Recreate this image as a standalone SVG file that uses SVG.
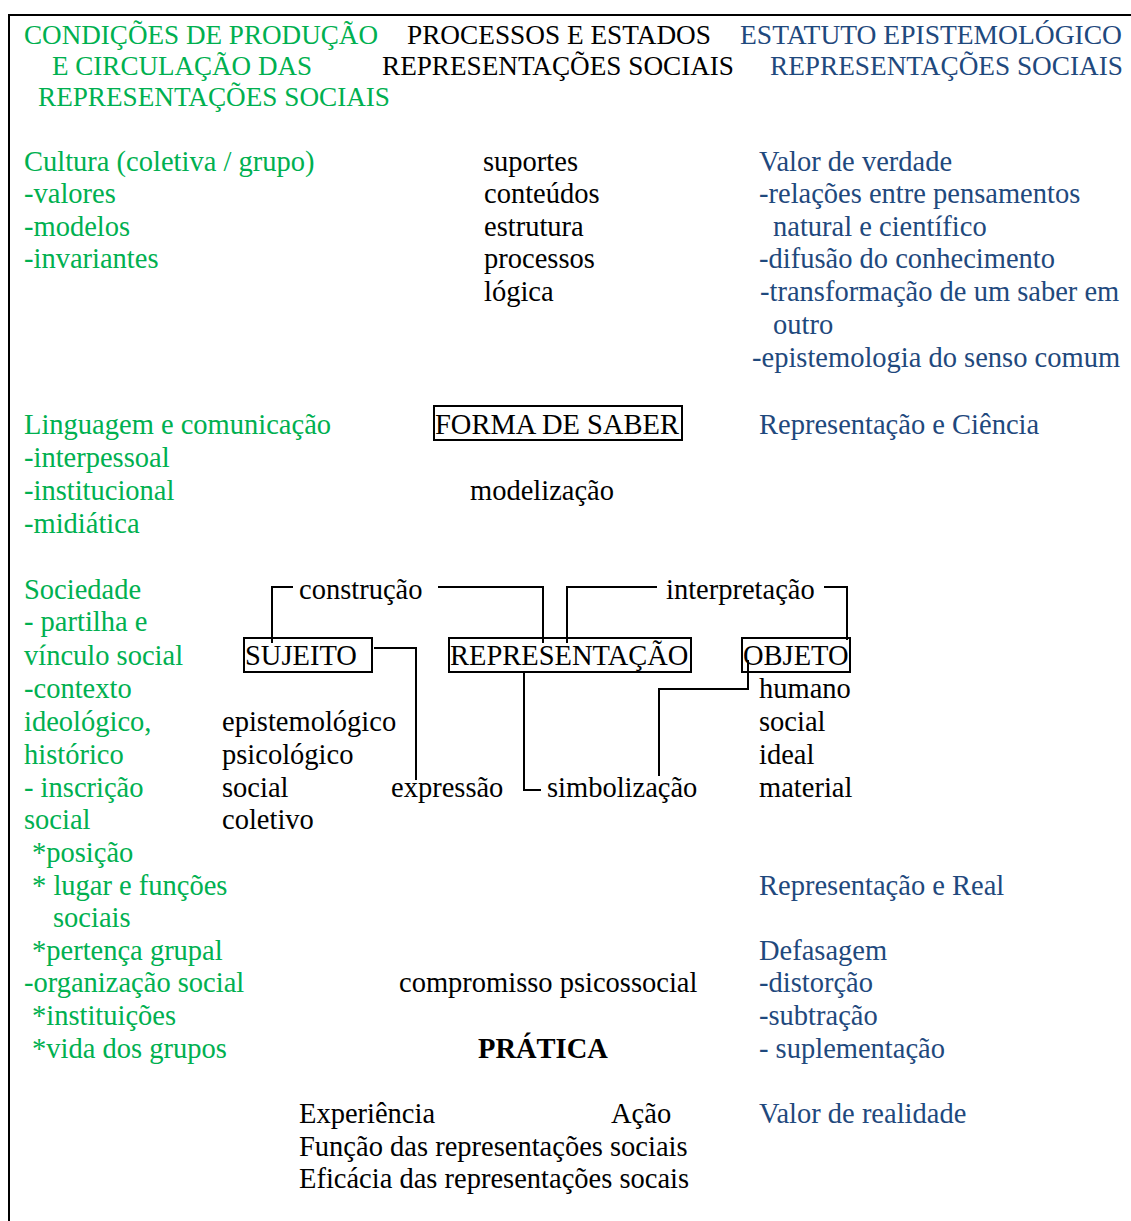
<svg xmlns="http://www.w3.org/2000/svg" width="1131" height="1221" viewBox="0 0 1131 1221">
<style>
text{font-family:"Liberation Serif","Times New Roman",serif;font-size:28.5px;fill:#000}
.h{font-size:27.3px}
.g{fill:#00B050}
.b{fill:#1F497D}
.bold{font-weight:bold}
.box{fill:none;stroke:#000;stroke-width:2}
.ln{fill:none;stroke:#000;stroke-width:2}
</style>
<rect width="1131" height="1221" fill="#fff"/>
<g id="frame"><path class="ln" d="M9 1221V15H1131"/></g>
<g id="headers">
<text class="h g" x="24" y="44" textLength="354" lengthAdjust="spacingAndGlyphs">CONDIÇÕES DE PRODUÇÃO</text>
<text class="h g" x="52" y="75" textLength="260" lengthAdjust="spacingAndGlyphs">E CIRCULAÇÃO DAS</text>
<text class="h g" x="38" y="106" textLength="352" lengthAdjust="spacingAndGlyphs">REPRESENTAÇÕES SOCIAIS</text>
<text class="h" x="407" y="44" textLength="304" lengthAdjust="spacingAndGlyphs">PROCESSOS E ESTADOS</text>
<text class="h" x="382" y="75" textLength="352" lengthAdjust="spacingAndGlyphs">REPRESENTAÇÕES SOCIAIS</text>
<text class="h b" x="740" y="44" textLength="382" lengthAdjust="spacingAndGlyphs">ESTATUTO EPISTEMOLÓGICO</text>
<text class="h b" x="770" y="75" textLength="353" lengthAdjust="spacingAndGlyphs">REPRESENTAÇÕES SOCIAIS</text>
</g>
<g id="cultura">
<text class="g" x="24" y="171">Cultura (coletiva / grupo)</text>
<text class="g" x="24" y="203">-valores</text>
<text class="g" x="24" y="236">-modelos</text>
<text class="g" x="24" y="268">-invariantes</text>
</g>
<g id="processos">
<text x="483" y="171">suportes</text>
<text x="484" y="203">conteúdos</text>
<text x="484" y="236">estrutura</text>
<text x="484" y="268">processos</text>
<text x="484" y="301">lógica</text>
</g>
<g id="valor-verdade">
<text class="b" x="759" y="171">Valor de verdade</text>
<text class="b" x="759" y="203">-relações entre pensamentos</text>
<text class="b" x="773" y="236">natural e científico</text>
<text class="b" x="759" y="268">-difusão do conhecimento</text>
<text class="b" x="760" y="301">-transformação de um saber em</text>
<text class="b" x="773" y="334">outro</text>
<text class="b" x="752" y="367">-epistemologia do senso comum</text>
</g>
<g id="linguagem">
<text class="g" x="24" y="434">Linguagem e comunicação</text>
<text class="g" x="24" y="467">-interpessoal</text>
<text class="g" x="24" y="500">-institucional</text>
<text class="g" x="24" y="533">-midiática</text>
</g>
<g id="forma-de-saber">
<rect class="box" x="434" y="406" width="248" height="34"/>
<text x="435" y="434">FORMA DE SABER</text>
</g>
<g id="modelizacao"><text x="470" y="500">modelização</text></g>
<g id="rep-ciencia"><text class="b" x="759" y="434">Representação e Ciência</text></g>
<g id="sociedade">
<text class="g" x="24" y="599">Sociedade</text>
<text class="g" x="24" y="631">- partilha e</text>
<text class="g" x="24" y="665">vínculo social</text>
<text class="g" x="24" y="698">-contexto</text>
<text class="g" x="24" y="731">ideológico,</text>
<text class="g" x="24" y="764">histórico</text>
<text class="g" x="24" y="797">- inscrição</text>
<text class="g" x="24" y="829">social</text>
<text class="g" x="32" y="862">*posição</text>
<text class="g" x="32" y="895">* lugar e funções</text>
<text class="g" x="53" y="927">sociais</text>
<text class="g" x="32" y="960">*pertença grupal</text>
<text class="g" x="24" y="992">-organização social</text>
<text class="g" x="32" y="1025">*instituições</text>
<text class="g" x="32" y="1058">*vida dos grupos</text>
</g>
<g id="sujeito">
<rect class="box" x="244" y="638" width="128" height="34"/>
<text x="245" y="665">SUJEITO</text>
</g>
<g id="representacao">
<rect class="box" x="449" y="638" width="242" height="34"/>
<text x="450" y="665">REPRESENTAÇÃO</text>
</g>
<g id="objeto">
<rect class="box" x="742" y="638" width="108" height="34"/>
<text x="743" y="665">OBJETO</text>
</g>
<g id="sujeito-tipos">
<text x="222" y="731">epistemológico</text>
<text x="222" y="764">psicológico</text>
<text x="222" y="797">social</text>
<text x="222" y="829">coletivo</text>
</g>
<g id="objeto-tipos">
<text x="759" y="698">humano</text>
<text x="759" y="731">social</text>
<text x="759" y="764">ideal</text>
<text x="759" y="797">material</text>
</g>
<g id="connectors">
<path class="ln" d="M272 643V587H293"/>
<path class="ln" d="M438 587H543V643"/>
<path class="ln" d="M567 643V587H657"/>
<path class="ln" d="M824 587H847V640"/>
<path class="ln" d="M374 648H416V780"/>
<path class="ln" d="M524 673V790H541"/>
<path class="ln" d="M748 660V689H659V776"/>
</g>
<g id="connector-labels">
<text x="299" y="599">construção</text>
<text x="666" y="599">interpretação</text>
<text x="391" y="797">expressão</text>
<text x="547" y="797">simbolização</text>
</g>
<g id="rep-real">
<text class="b" x="759" y="895">Representação e Real</text>
<text class="b" x="759" y="960">Defasagem</text>
<text class="b" x="759" y="992">-distorção</text>
<text class="b" x="759" y="1025">-subtração</text>
<text class="b" x="759" y="1058">- suplementação</text>
</g>
<g id="compromisso"><text x="399" y="992">compromisso psicossocial</text></g>
<g id="pratica"><text class="bold" x="478" y="1058">PRÁTICA</text></g>
<g id="funcao">
<text x="299" y="1123">Experiência</text>
<text x="611" y="1123">Ação</text>
<text x="299" y="1156">Função das representações sociais</text>
<text x="299" y="1188">Eficácia das representações socais</text>
</g>
<g id="valor-realidade"><text class="b" x="759" y="1123">Valor de realidade</text></g>
</svg>
